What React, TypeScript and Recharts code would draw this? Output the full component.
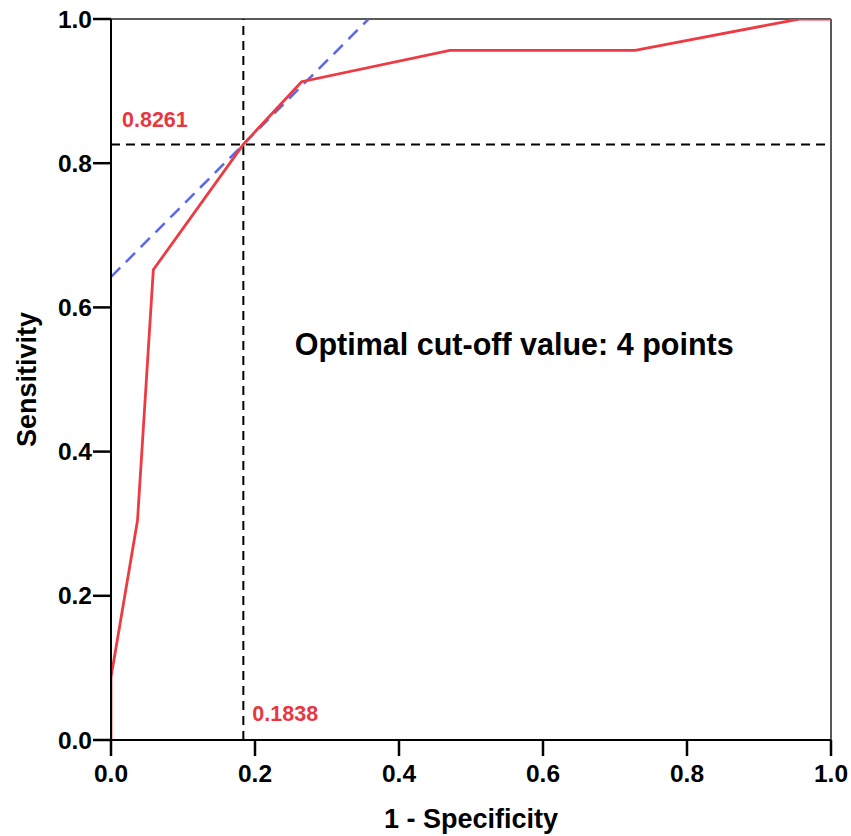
import {
	Label,
	Line,
	LineChart,
	ReferenceDot,
	ReferenceLine,
	XAxis,
	YAxis,
} from "recharts";

// ROC curve points (1 - specificity, sensitivity)
const fprValues = [0, 0, 0.0368, 0.0588, 0.1838, 0.2647, 0.4706, 0.7279, 0.9559, 1];
const sensValues = [0, 0.087, 0.3043, 0.6522, 0.8261, 0.913, 0.9565, 0.9565, 1, 1];

const cutFpr = 0.1838;
const cutSens = 0.8261;
const youden = cutSens - cutFpr;

const tickValues = [0, 0.2, 0.4, 0.6, 0.8, 1];
const noteText = "Optimal cut-off value: 4 points";
const notePos = { x: 0.56, y: 0.534 };

const rocData = fprValues.map((fpr, i) => ({ fpr, sens: sensValues[i] }));
// tangent line y = x + J, clipped at sensitivity 1
const tangentData = [
	{ fpr: 0, sens: youden },
	{ fpr: 1 - youden, sens: 1 },
];

const font = "Arial, 'Liberation Sans', sans-serif";
const red = "#ee3a42";
const labelRed = "#e8383f";

export default function App() {
	return (
		<div style={{ position: "absolute", left: 0, top: 0, width: 851, height: 836, overflow: "hidden", background: "#fff" }}>
			<LineChart
				width={851}
				height={836}
				margin={{ top: 19, right: 20, left: 0, bottom: 0 }}
			>
				<XAxis
					dataKey="fpr"
					type="number"
					domain={[0, 1]}
					ticks={tickValues}
					allowDataOverflow
					height={96}
					tickSize={16}
					tickMargin={9}
					stroke="#000"
					axisLine={{ stroke: "#000", strokeWidth: 2 }}
					tickLine={{ stroke: "#000", strokeWidth: 2.5 }}
					tick={{ fill: "#000", fontSize: 24.5, fontWeight: 700, fontFamily: font }}
					tickFormatter={(v: number) => v.toFixed(1)}
				>
					<Label
						content={(p: any) => {
							const vb = p.viewBox;
							return (
								<text
									x={vb.x + vb.width / 2}
									y={vb.y + vb.height - 8}
									textAnchor="middle"
									fontSize={27}
									fontWeight={700}
									fontFamily={font}
									fill="#000"
								>
									1 - Specificity
								</text>
							);
						}}
					/>
				</XAxis>
				<YAxis
					type="number"
					domain={[0, 1]}
					ticks={tickValues}
					allowDataOverflow
					width={111}
					tickSize={18}
					tickMargin={1}
					axisLine={{ stroke: "#000", strokeWidth: 2 }}
					tickLine={{ stroke: "#000", strokeWidth: 2.5 }}
					tick={{ fill: "#000", fontSize: 24.5, fontWeight: 700, fontFamily: font }}
					tickFormatter={(v: number) => v.toFixed(1)}
				>
					<Label
						content={(p: any) => {
							const vb = p.viewBox;
							const cx = 27;
							const cy = vb.y + vb.height / 2;
							return (
								<text
									x={cx}
									y={cy}
									transform={`rotate(-90 ${cx} ${cy})`}
									textAnchor="middle"
									dominantBaseline="central"
									fontSize={27}
									fontWeight={700}
									fontFamily={font}
									fill="#000"
								>
									Sensitivity
								</text>
							);
						}}
					/>
				</YAxis>
				<ReferenceLine y={1} stroke="#222" strokeWidth={1.5} />
				<ReferenceLine x={1} stroke="#222" strokeWidth={1.5} />
				<ReferenceLine
					y={cutSens}
					stroke="#000"
					strokeWidth={2}
					strokeDasharray="9 6"
					label={{
						content: (p: any) => (
							<text
								x={p.viewBox.x + 11}
								y={p.viewBox.y - 17}
								fontSize={21.5}
								fontWeight={700}
								fontFamily={font}
								fill={labelRed}
							>
								{cutSens.toFixed(4)}
							</text>
						),
					}}
				/>
				<ReferenceLine
					x={cutFpr}
					stroke="#000"
					strokeWidth={2}
					strokeDasharray="9 6"
					label={{
						content: (p: any) => (
							<text
								x={p.viewBox.x + 9}
								y={p.viewBox.y + p.viewBox.height - 19}
								fontSize={21.5}
								fontWeight={700}
								fontFamily={font}
								fill={labelRed}
							>
								{cutFpr.toFixed(4)}
							</text>
						),
					}}
				/>
				<Line
					data={tangentData}
					dataKey="sens"
					type="linear"
					stroke="#5a66ee"
					strokeWidth={2.5}
					strokeDasharray="13 8"
					dot={false}
					activeDot={false}
					isAnimationActive={false}
				/>
				<Line
					data={rocData}
					dataKey="sens"
					type="linear"
					stroke={red}
					strokeWidth={2.8}
					dot={false}
					activeDot={false}
					isAnimationActive={false}
				/>
				<ReferenceDot
					x={notePos.x}
					y={notePos.y}
					r={0}
					fill="none"
					stroke="none"
					label={{
						content: (p: any) => (
							<text
								x={p.viewBox.x}
								y={p.viewBox.y}
								textAnchor="middle"
								fontSize={30.5}
								fontWeight={700}
								fontFamily={font}
								fill="#000"
							>
								{noteText}
							</text>
						),
					}}
				/>
			</LineChart>
		</div>
	);
}
